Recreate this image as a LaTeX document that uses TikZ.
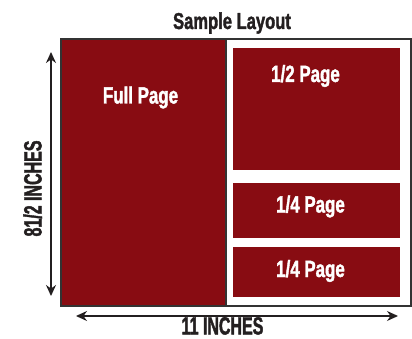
\documentclass[tikz,border=0pt]{standalone}
\usepackage{fontspec}
\setmainfont{Liberation Sans}
\newfontfamily\boxfont{Liberation Sans}[FakeStretch=0.72,BoldFeatures={FakeBold=1.6}]
\newfontfamily\dimfont{Liberation Sans}[FakeStretch=0.64,BoldFeatures={FakeBold=1.6}]
\usetikzlibrary{arrows.meta}
\definecolor{pagered}{HTML}{880C12}
\definecolor{ink}{HTML}{231F20}
\definecolor{framec}{HTML}{333333}
\begin{document}
\begin{tikzpicture}[x=1pt,y=-1pt,
  redbox/.style={fill=pagered,draw=none,inner sep=0pt,outer sep=0pt},
  boxlabel/.style={text=white,font=\boxfont\bfseries\fontsize{23.5}{26}\selectfont,inner sep=0pt,anchor=base},
  dimlabel/.style={text=ink,font=\dimfont\bfseries\fontsize{25}{27}\selectfont,inner sep=0pt,anchor=base},
  dimarrow/.style={draw=ink,line width=1.4pt,{Stealth[length=11pt,width=10pt]}-{Stealth[length=11pt,width=10pt]}}]
\useasboundingbox (0,0) rectangle (412,339);
% full page
\path[fill=pagered,draw=framec,line width=2pt] (61,39) rectangle (225.5,306);
\node[inner sep=0pt] (full) at (143.25,172.5) {};
% outer frame
\node[draw=framec,line width=2pt,minimum width=349.5pt,minimum height=267pt,inner sep=0pt] (frame) at (235.75,172.5) {};
% right boxes
\node[redbox,minimum width=167pt,minimum height=122pt] (half) at (316.5,109) {};
\node[redbox,minimum width=167pt,minimum height=55pt] (q1) at (316.5,210.5) {};
\node[redbox,minimum width=167pt,minimum height=50pt] (q2) at (316.5,272) {};
% labels
\node[text=ink,font=\boxfont\bfseries\fontsize{23}{25}\selectfont,inner sep=0pt,anchor=base] (title) at (232,29) {Sample Layout};
\node[boxlabel] (fulll) at (140.5,103.5) {Full Page};
\node[boxlabel] (halfl) at (305.5,82) {1/2 Page};
\node[boxlabel] (q1l) at (310.5,212.5) {1/4 Page};
\node[boxlabel] (q2l) at (310.5,277) {1/4 Page};
% dimensions
\coordinate (vtop) at (51,52);
\coordinate (vbot) at (51,296);
\draw[dimarrow] (vtop) -- (vbot);
\coordinate (hl) at (76,316);
\coordinate (hr) at (398,316);
\draw[dimarrow] (hl) -- (hr);
\node[dimlabel] (wlab) at (222.5,334.5) {11 INCHES};
\node[dimlabel,rotate=90] (hlab) at (41.5,188.5) {81/2 INCHES};
\end{tikzpicture}
\end{document}
